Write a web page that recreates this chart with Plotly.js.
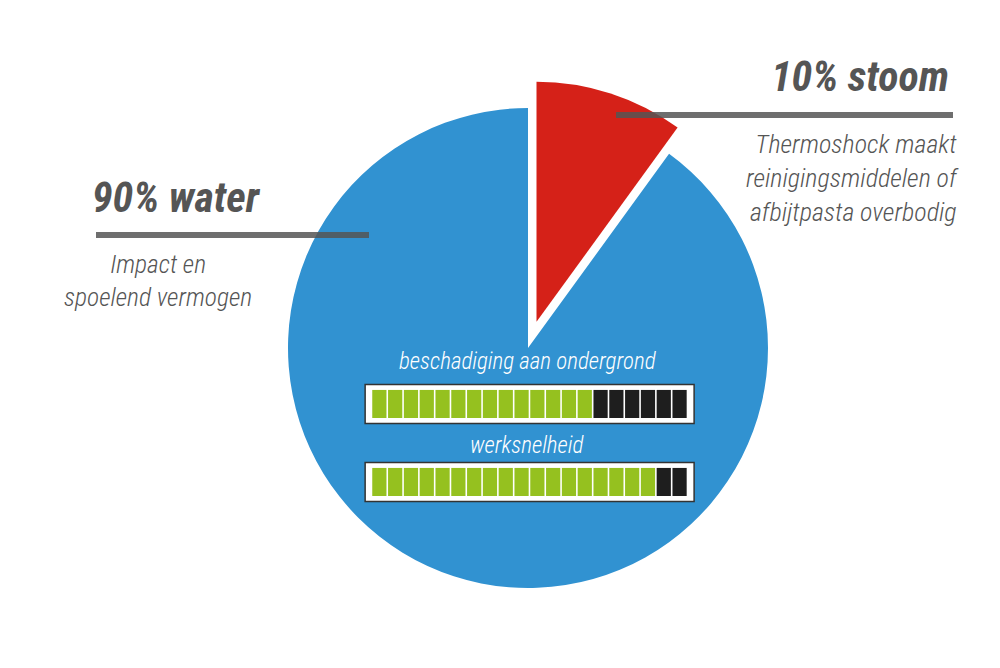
<!DOCTYPE html>
<html>
<head>
<meta charset="utf-8">
<script src="https://cdn.plot.ly/plotly-3.0.1.min.js"></script>
<style>
  html, body { margin: 0; padding: 0; background: #ffffff; }
  #chart { width: 1000px; height: 668px; }
</style>
</head>
<body>
<div id="chart"></div>
<script>
// ---- data ----
const sliceLabels = ['10% stoom', '90% water'];
const sliceValues = [10, 90];
const slicePull = [0.115, 0];

const meterLabels = ['beschadiging aan ondergrond', 'werksnelheid'];
const meterScores = [14, 18];
const meterMax = 20;

const headingLeft = '90% water';
const headingRight = '10% stoom';
const noteLeft = ['Impact en', 'spoelend vermogen'];
const noteRight = ['Thermoshock maakt', 'reinigingsmiddelen of', 'afbijtpasta overbodig'];

// ---- style ----
const W = 1000, H = 668;
const BLUE = '#3192d1', RED = '#d52118', GREEN = '#95c11f', BLACK = '#1e1e1e';
const FONT = "'Roboto Condensed', 'Liberation Sans Narrow', 'DejaVu Sans Condensed', Roboto, sans-serif";
const px = v => v / W;
const py = v => 1 - v / H;

const pie = {
  type: 'pie',
  labels: sliceLabels,
  values: sliceValues,
  pull: slicePull,
  sort: false,
  direction: 'clockwise',
  rotation: 0,
  marker: { colors: [RED, BLUE], line: { width: 0 } },
  textinfo: 'none',
  hoverinfo: 'skip',
  showlegend: false,
  domain: { x: [0.2604, 0.7956], y: [0.0784, 0.8796] }
};

// invisible helper trace to create the meter axes
const helper = {
  type: 'scatter', mode: 'markers',
  x: [0, meterMax], y: [0, meterLabels.length - 1],
  marker: { opacity: 0 }, hoverinfo: 'skip', showlegend: false
};

const shapes = [];
const annotations = [];

// meters
meterLabels.forEach((lab, row) => {
  shapes.push({
    type: 'rect', xref: 'x', yref: 'y', layer: 'above',
    x0: -0.4, x1: meterMax + 0.42, y0: row - 0.25, y1: row + 0.25,
    fillcolor: '#ffffff', line: { color: '#333333', width: 1.5 }
  });
  for (let i = 0; i < meterMax; i++) {
    shapes.push({
      type: 'rect', xref: 'x', yref: 'y', layer: 'above',
      x0: i + 0.05, x1: i + 0.95, y0: row - 0.18, y1: row + 0.18,
      fillcolor: i < meterScores[row] ? GREEN : BLACK,
      line: { width: 0 }
    });
  }
  annotations.push({
    xref: 'x', yref: 'y', x: meterMax / 2 - 0.1, y: row - (row === 0 ? 0.54 : 0.47),
    text: lab, showarrow: false, xanchor: 'center', yanchor: 'middle',
    font: { family: FONT, size: 23, color: '#ffffff', style: 'italic', weight: 300 }
  });
});

// leader lines
shapes.push({
  type: 'line', xref: 'paper', yref: 'paper', layer: 'above',
  x0: px(96), x1: px(369), y0: py(235), y1: py(235),
  line: { color: 'rgba(85,85,85,0.85)', width: 6 }
});
shapes.push({
  type: 'line', xref: 'paper', yref: 'paper', layer: 'above',
  x0: px(616), x1: px(953), y0: py(115), y1: py(115),
  line: { color: 'rgba(85,85,85,0.85)', width: 6 }
});

// headings
annotations.push({
  xref: 'paper', yref: 'paper', x: px(176), y: py(198),
  text: headingLeft, showarrow: false, xanchor: 'center', yanchor: 'middle',
  font: { family: FONT, size: 42, color: '#555555', style: 'italic', weight: 700 }
});
annotations.push({
  xref: 'paper', yref: 'paper', x: px(951), y: py(76),
  text: headingRight, showarrow: false, xanchor: 'right', yanchor: 'middle',
  font: { family: FONT, size: 42, color: '#555555', style: 'italic', weight: 700 }
});

// notes
annotations.push({
  xref: 'paper', yref: 'paper', x: px(158), y: py(280),
  text: noteLeft.join('<br>'), showarrow: false, xanchor: 'center', yanchor: 'middle',
  align: 'center',
  font: { family: FONT, size: 25.5, color: '#555555', style: 'italic', weight: 300 }
});
annotations.push({
  xref: 'paper', yref: 'paper', x: px(961), y: py(178),
  text: noteRight.join('<br>'), showarrow: false, xanchor: 'right', yanchor: 'middle',
  align: 'right',
  font: { family: FONT, size: 26, color: '#555555', style: 'italic', weight: 300 }
});

const layout = {
  width: W, height: H,
  margin: { l: 0, r: 0, t: 0, b: 0, pad: 0 },
  paper_bgcolor: '#ffffff', plot_bgcolor: 'rgba(0,0,0,0)',
  showlegend: false, hovermode: false,
  xaxis: { domain: [0, 1], range: [-23.51, 39.78], visible: false, fixedrange: true },
  yaxis: { domain: [0, 1], range: [3.385, -5.179], visible: false, fixedrange: true },
  shapes: shapes,
  annotations: annotations
};

Plotly.newPlot('chart', [helper, pie], layout, { staticPlot: true, displayModeBar: false });
</script>
</body>
</html>
